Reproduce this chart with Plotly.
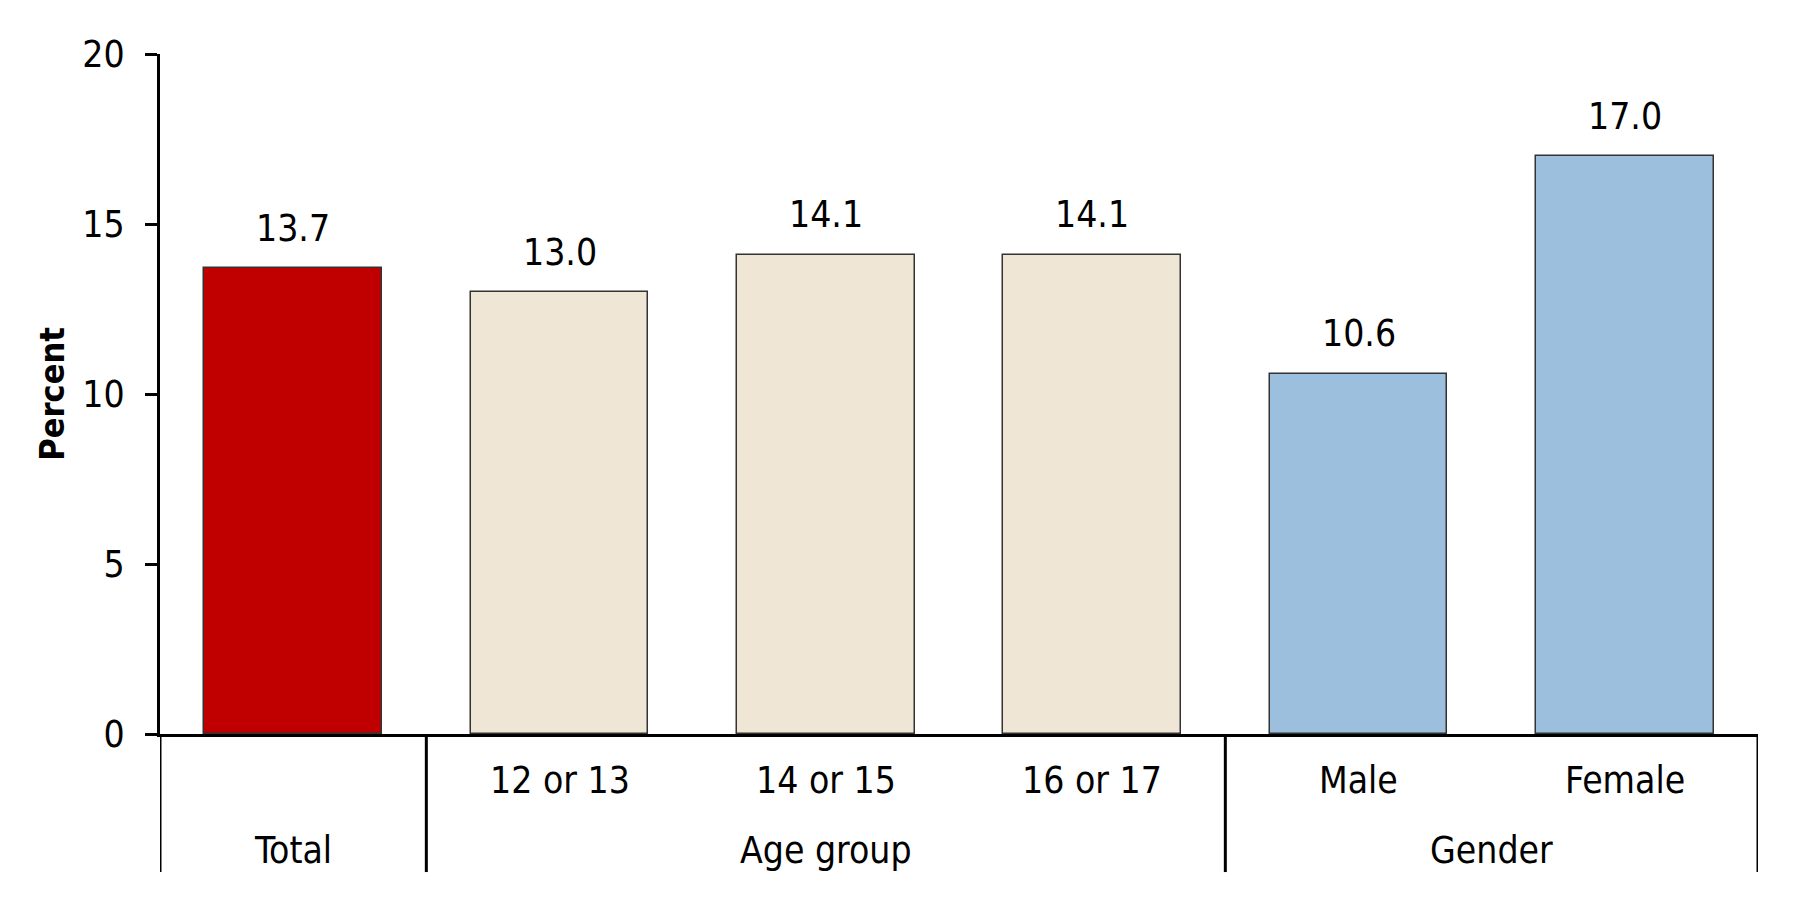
import plotly.graph_objects as go

# values
categories = ["Total", "12 or 13", "14 or 15", "16 or 17", "Male", "Female"]
cat_labels = ["", "12 or 13", "14 or 15", "16 or 17", "Male", "Female"]
values = [13.7, 13.0, 14.1, 14.1, 10.6, 17.0]
groups = ["Total", "Age group", "Gender"]
group_sizes = [1, 3, 2]
group_colors = ["#C00000", "#F0E6D6", "#9BBFDC"]

FONT = "Liberation Sans Narrow, DejaVu Sans Condensed, Arial Narrow, sans-serif"

bar_colors = []
for size, col in zip(group_sizes, group_colors):
    bar_colors += [col] * size

xs = list(range(len(categories)))

fig = go.Figure()
fig.add_trace(go.Bar(
    x=xs,
    y=values,
    width=0.666,
    marker=dict(color=bar_colors, line=dict(color="#333333", width=1.5)),
    hoverinfo="skip",
    showlegend=False,
))

# value labels above bars
for x, v in zip(xs, values):
    fig.add_annotation(x=x, y=v, text=f"{v:.1f}", showarrow=False,
                       yanchor="middle", yshift=40,
                       font=dict(size=37, color="black", family=FONT))

# category labels (first row under axis)
for x, lab in zip(xs, cat_labels):
    if lab:
        fig.add_annotation(x=x, y=-0.068, yref="paper", text=lab, showarrow=False,
                           yanchor="middle", font=dict(size=37, color="black", family=FONT))

# group labels and separators
sep_depth = -0.203
start = -0.5
fig.add_shape(type="line", x0=start, x1=start, y0=0, y1=sep_depth, yref="paper",
              line=dict(color="black", width=3))
for name, size in zip(groups, group_sizes):
    end = start + size
    fig.add_annotation(x=(start + end) / 2, y=-0.171, yref="paper", text=name,
                       showarrow=False, yanchor="middle",
                       font=dict(size=37, color="black", family=FONT))
    fig.add_shape(type="line", x0=end, x1=end, y0=0, y1=sep_depth, yref="paper",
                  line=dict(color="black", width=3))
    start = end

# y axis title
fig.add_annotation(x=-0.0678, y=0.5, xref="paper", yref="paper", text="<b>Percent</b>",
                   textangle=-90, showarrow=False, xanchor="center", yanchor="middle",
                   font=dict(size=34, color="black", family=FONT))

fig.update_layout(
    width=1801,
    height=900,
    margin=dict(l=152, r=51, t=46, b=174),
    plot_bgcolor="white",
    paper_bgcolor="white",
    font=dict(family=FONT, size=37, color="black"),
    bargap=0,
)
fig.update_xaxes(
    range=[-0.5, 5.5],
    automargin=False,
    showticklabels=False,
    ticks="",
    showgrid=False,
    zeroline=False,
    showline=True,
    linecolor="black",
    linewidth=3,
)
fig.update_yaxes(
    range=[0, 20],
    automargin=False,
    tickvals=[0, 5, 10, 15, 20],
    ticks="outside",
    ticklen=12,
    tickwidth=3,
    tickcolor="black",
    ticklabelstandoff=13,
    showgrid=False,
    zeroline=False,
    showline=True,
    linecolor="black",
    linewidth=3,
    tickfont=dict(size=37, family=FONT),
)

fig.write_html("out.html")
